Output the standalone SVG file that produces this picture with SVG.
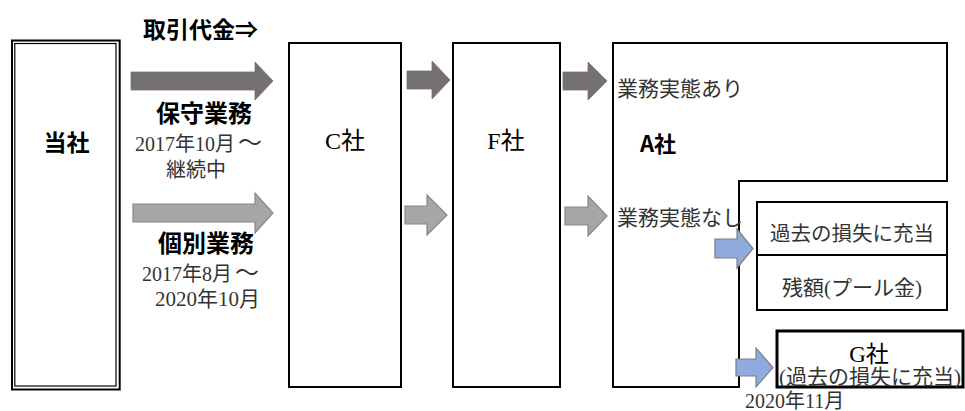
<svg xmlns="http://www.w3.org/2000/svg" width="965" height="411" viewBox="0 0 965 411">
  <style>
    .box { fill: #ffffff; stroke: #000000; stroke-width: 2; }
    .gboxline { fill: #ffffff; stroke: #000000; stroke-width: 3; }
    .dark { fill: #767171; stroke: #767171; stroke-width: 0.8; }
    .light { fill: #a6a6a6; stroke: #878787; stroke-width: 1.2; }
    .blue { fill: #8faadc; stroke: #7f7f7f; stroke-width: 1.2; }
    .goth { font-family: "Noto Sans CJK JP", "Noto Sans", sans-serif; fill: #000000; }
    .bold { font-weight: bold; }
    .min { font-family: "Liberation Serif", "Noto Sans CJK JP", serif; fill: #333333; }
    .ink { fill: #000000; }
    .mid { text-anchor: middle; }
  </style>

  <rect width="965" height="411" fill="#ffffff"/>

  <!-- heading above the money-flow arrows -->
  <text class="goth bold" x="143" y="37.5" font-size="23">取引代金⇒</text>

  <!-- our company: double-ruled box -->
  <g id="node-tosha">
    <rect x="12" y="40.5" width="107.7" height="349" fill="#ffffff" stroke="#000000" stroke-width="2"/>
    <rect x="14.8" y="43.5" width="101.2" height="342.5" fill="none" stroke="#000000" stroke-width="1.2"/>
    <text class="goth bold mid" x="66.5" y="151" font-size="23">当社</text>
  </g>

  <!-- company C -->
  <g id="node-c">
    <rect class="box" x="289" y="43" width="112" height="344"/>
    <text class="min ink mid" x="345" y="149" font-size="24">C社</text>
  </g>

  <!-- company F -->
  <g id="node-f">
    <rect class="box" x="453" y="43" width="107" height="344"/>
    <text class="min ink mid" x="506" y="149" font-size="24">F社</text>
  </g>

  <!-- company A: stepped outline -->
  <g id="node-a">
    <path class="box" d="M613,43 H947 V181 H739 V387 H613 Z"/>
    <text class="min" x="617" y="96" font-size="21">業務実態あり</text>
    <text class="goth bold" x="640" y="152" font-size="22">A社</text>
    <text class="min" x="617" y="225" font-size="21">業務実態なし</text>
  </g>

  <!-- allocation of the payments without real work -->
  <g id="node-allocation">
    <rect class="box" x="757" y="202" width="190" height="108"/>
    <line x1="757" y1="255" x2="947" y2="255" stroke="#000000" stroke-width="2"/>
    <text class="min mid" x="852" y="241" font-size="20.5">過去の損失に充当</text>
    <text class="min mid" x="852" y="295" font-size="21">残額(プール金)</text>
  </g>

  <!-- company G -->
  <g id="node-g">
    <rect class="gboxline" x="777" y="331" width="186" height="56"/>
    <text class="min ink mid" x="869" y="362" font-size="23">G社</text>
    <text class="min mid" x="870" y="384" font-size="21">(過去の損失に充当)</text>
  </g>

  <!-- labels between our company and C -->
  <g id="labels-maintenance">
    <text class="goth bold mid" x="204" y="122" font-size="24">保守業務</text>
    <text class="min" x="135" y="151" font-size="20">2017年10月<tspan dx="3" font-size="24">～</tspan></text>
    <text class="min mid" x="196" y="177" font-size="20">継続中</text>
  </g>
  <g id="labels-individual">
    <text class="goth bold mid" x="206" y="252" font-size="24">個別業務</text>
    <text class="min" x="142" y="281" font-size="20">2017年8月<tspan dx="3" font-size="24">～</tspan></text>
    <text class="min" x="155" y="306" font-size="21">2020年10月</text>
  </g>
  <text class="min" x="745" y="408" font-size="20">2020年11月</text>

  <!-- connectors: block arrows -->
  <g id="connectors">
    <polygon class="dark" points="131,72 255,72 255,62 273,81 255,100 255,90 131,90"/>
    <polygon class="light" points="133,204 255,204 255,193 273,213 255,233 255,222 133,222"/>
    <polygon class="dark" points="407,71 432,71 432,61 450,80 432,99 432,89 407,89"/>
    <polygon class="light" points="405,206 427,206 427,195 447,215 427,235 427,224 405,224"/>
    <polygon class="dark" points="563,72 588,72 588,62 607,81 588,100 588,90 563,90"/>
    <polygon class="light" points="565,207 588,207 588,196 607,216 588,236 588,225 565,225"/>
    <polygon class="blue" points="715,239 737,239 737,229 753,248.5 737,268 737,258 715,258"/>
    <polygon class="blue" points="736,359 756,359 756,348 773,367.5 756,387 756,376 736,376"/>
  </g>
</svg>
